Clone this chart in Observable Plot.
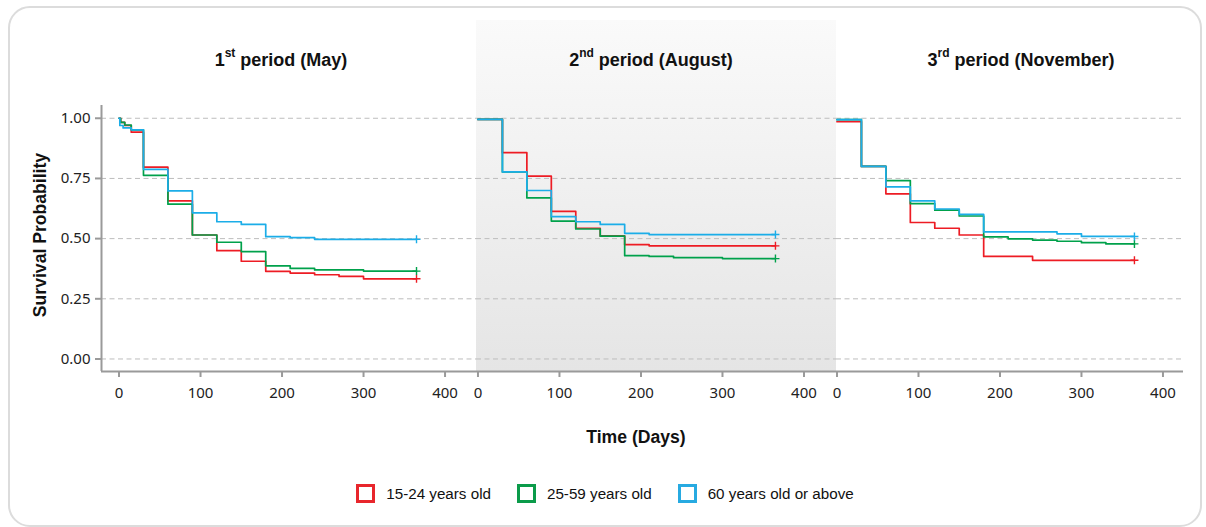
<!DOCTYPE html>
<html>
<head>
<meta charset="utf-8">
<script src="https://cdn.jsdelivr.net/npm/d3@7"></script>
<script src="https://cdn.jsdelivr.net/npm/@observablehq/plot@0.6"></script>
<style>
html,body{margin:0;padding:0;background:#fff;}
#wrap{position:relative;width:1206px;height:527px;overflow:hidden;font-family:"Liberation Sans",Arial,sans-serif;color:#111;}
#card{position:absolute;left:8px;top:6px;width:1194px;height:521px;border:2px solid #dcdcdc;border-radius:22px;box-sizing:border-box;}
#shade{position:absolute;left:476px;top:20px;width:360px;height:351px;background:linear-gradient(to bottom,#fafafa,#e5e5e5);}
.panel{position:absolute;top:0;}
.panel svg{overflow:visible;}
.title{position:absolute;top:51px;font-weight:bold;font-size:18px;line-height:18px;white-space:nowrap;transform:translateX(-50%);}
.title sup{font-size:12px;line-height:0;vertical-align:9px;}
.axt{position:absolute;font-weight:bold;font-size:17.6px;white-space:nowrap;transform:translate(-50%,-50%);}
#ylab{left:40px;top:235px;transform:translate(-50%,-50%) rotate(-90deg);}
#xlab{left:636px;top:437px;}
#legend{position:absolute;left:2px;top:484px;width:1206px;display:flex;justify-content:center;gap:26px;font-size:15.2px;}
.item{display:flex;align-items:center;}
.box{width:19px;height:19px;border:3px solid;box-sizing:border-box;margin-right:11px;background:#fff;}
</style>
</head>
<body>
<div id="wrap">
  <div id="card"></div>
  <div id="shade"></div>
</div>
<script>
// ---------- data ----------
const groups = ["15-24 years old", "25-59 years old", "60 years old or above"];
const groupColors = ["#ED1C24", "#00A14B", "#1BADE8"];
const legendColors = ["#E8262C", "#0B9B4A", "#27AAE1"];
const periodTitles = [["1", "st", " period (May)"], ["2", "nd", " period (August)"], ["3", "rd", " period (November)"]];
const yTicks = [0, 0.25, 0.5, 0.75, 1];
const xTicks = [0, 100, 200, 300, 400];

// [day, survival probability]
const may_15_24 = [[0,1],[2,0.983],[7,0.97],[15,0.942],[30,0.797],[60,0.657],[90,0.515],[120,0.450],[150,0.406],[180,0.364],[210,0.357],[240,0.350],[270,0.343],[300,0.333],[365,0.333]];
const may_25_59 = [[0,1],[2,0.983],[7,0.972],[15,0.952],[30,0.763],[60,0.643],[90,0.515],[120,0.485],[150,0.446],[180,0.387],[210,0.376],[240,0.370],[300,0.365],[365,0.365]];
const may_60plus = [[0,1],[1,0.97],[5,0.96],[15,0.952],[30,0.788],[60,0.698],[90,0.607],[120,0.570],[150,0.559],[180,0.508],[210,0.504],[240,0.497],[365,0.497]];

const aug_15_24 = [[0,0.995],[30,0.857],[60,0.760],[90,0.613],[120,0.543],[150,0.511],[180,0.475],[210,0.470],[365,0.470]];
const aug_25_59 = [[0,0.995],[30,0.777],[60,0.669],[90,0.573],[120,0.540],[150,0.510],[180,0.429],[210,0.426],[240,0.421],[300,0.417],[365,0.417]];
const aug_60plus = [[0,0.995],[30,0.777],[60,0.700],[90,0.591],[120,0.570],[150,0.559],[180,0.522],[210,0.517],[365,0.517]];

const nov_15_24 = [[0,0.986],[30,0.800],[60,0.686],[90,0.567],[120,0.543],[150,0.515],[180,0.426],[240,0.410],[365,0.410]];
const nov_25_59 = [[0,0.994],[30,0.800],[60,0.741],[90,0.645],[120,0.618],[150,0.594],[180,0.507],[210,0.499],[240,0.494],[270,0.489],[300,0.483],[330,0.478],[365,0.478]];
const nov_60plus = [[0,0.994],[30,0.800],[60,0.715],[90,0.657],[120,0.623],[150,0.601],[180,0.528],[270,0.520],[300,0.509],[365,0.509]];

const periodCurves = [
  [may_15_24, may_25_59, may_60plus],
  [aug_15_24, aug_25_59, aug_60plus],
  [nov_15_24, nov_25_59, nov_60plus]
];

// ---------- layout ----------
const yDomain = [-0.052, 1.053];
const panelLayout = [
  {left: 0,   width: 476, marginLeft: 101, marginRight: 0,  xDomain: [-21.5, 438.6], yAxis: true,  titleX: 281},
  {left: 476, width: 360, marginLeft: 0,   marginRight: 0,  xDomain: [-1.8, 439.9],  yAxis: false, titleX: 651},
  {left: 836, width: 370, marginLeft: 0,   marginRight: 23, xDomain: [-0.6, 425.2],  yAxis: false, titleX: 1021}
];
const axisGrey = "#9a9a9a";

const wrap = document.getElementById("wrap");

periodCurves.forEach((curves, p) => {
  const L = panelLayout[p];
  const rows = [];
  const ends = [];
  curves.forEach((arr, g) => {
    arr.forEach(([day, surv]) => rows.push({group: groups[g], day, surv}));
    const last = arr[arr.length - 1];
    ends.push({group: groups[g], day: last[0], surv: last[1]});
  });

  const chart = Plot.plot({
    width: L.width,
    height: 410,
    marginTop: 105,
    marginBottom: 39,
    marginLeft: L.marginLeft,
    marginRight: L.marginRight,
    x: {domain: L.xDomain},
    y: L.yAxis ? {domain: yDomain} : {domain: yDomain, axis: null},
    color: {domain: groups, range: groupColors},
    style: {background: "transparent", fontFamily: "'Noto Sans', sans-serif", fontSize: "15px", color: "#222", overflow: "visible"},
    marks: [
      Plot.ruleY(yTicks, {stroke: "#bdbdbd", strokeDasharray: "5,3.5", strokeWidth: 1}),
      L.yAxis ? Plot.axisY(yTicks, {tickFormat: d3.format(".2f"), tickSize: 6, tickPadding: 5, stroke: axisGrey, strokeWidth: 2, fill: "#222", label: null, fontSize: 15}) : null,
      Plot.axisX(xTicks, {tickSize: 6, tickPadding: 10, stroke: axisGrey, strokeWidth: 2, fill: "#222", label: null, fontSize: 15}),
      L.yAxis ? Plot.ruleX([L.xDomain[0]], {stroke: axisGrey, strokeWidth: 2}) : null,
      Plot.ruleY([yDomain[0]], {stroke: axisGrey, strokeWidth: 2}),
      Plot.line(rows, {x: "day", y: "surv", z: "group", stroke: "group", curve: "step-after", strokeWidth: 1.7}),
      Plot.dot(ends, {x: "day", y: "surv", stroke: "group", symbol: "plus", r: 2.7, strokeWidth: 1.4})
    ]
  });
  const holder = document.createElement("div");
  holder.className = "panel";
  holder.style.left = L.left + "px";
  holder.appendChild(chart);
  wrap.appendChild(holder);

  const t = document.createElement("div");
  t.className = "title";
  t.style.left = L.titleX + "px";
  const [num, sup, rest] = periodTitles[p];
  t.appendChild(document.createTextNode(num));
  const s = document.createElement("sup");
  s.textContent = sup;
  t.appendChild(s);
  t.appendChild(document.createTextNode(rest));
  wrap.appendChild(t);
});

const ylab = document.createElement("div");
ylab.className = "axt"; ylab.id = "ylab"; ylab.textContent = "Survival Probability";
wrap.appendChild(ylab);
const xlab = document.createElement("div");
xlab.className = "axt"; xlab.id = "xlab"; xlab.textContent = "Time (Days)";
wrap.appendChild(xlab);

const legend = document.createElement("div");
legend.id = "legend";
groups.forEach((g, i) => {
  const item = document.createElement("div");
  item.className = "item";
  const b = document.createElement("div");
  b.className = "box";
  b.style.borderColor = legendColors[i];
  item.appendChild(b);
  item.appendChild(document.createTextNode(g));
  legend.appendChild(item);
});
wrap.appendChild(legend);
</script>
</body>
</html>
